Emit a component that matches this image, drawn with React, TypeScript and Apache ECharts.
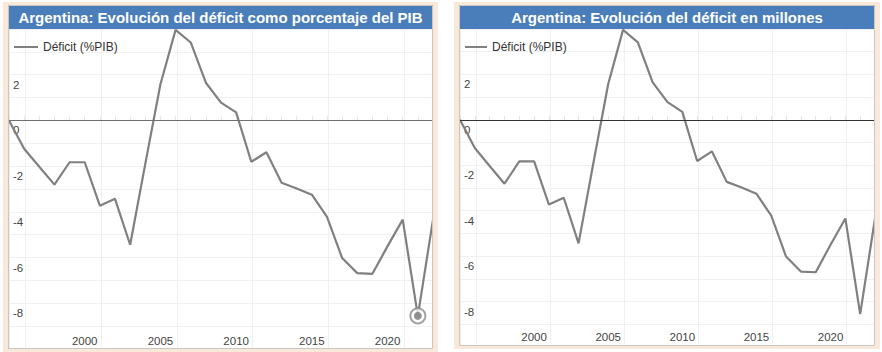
import React, { useEffect, useRef } from 'react';
import * as echarts from 'echarts';

const years = [
  '1995', '1996', '1997', '1998', '1999', '2000', '2001', '2002', '2003', '2004',
  '2005', '2006', '2007', '2008', '2009', '2010', '2011', '2012', '2013', '2014',
  '2015', '2016', '2017', '2018', '2019', '2020', '2021', '2022', '2023',
];
const deficitPct = [
  0, -1.24, -2.03, -2.81, -1.83, -1.83, -3.73, -3.43, -5.44, -1.9,
  1.58, 3.96, 3.41, 1.65, 0.78, 0.35, -1.81, -1.39, -2.73, -2.98,
  -3.25, -4.22, -6.02, -6.68, -6.71, -5.5, -4.34, -8.55, -4.34,
];
const xTickLabels = ['2000', '2005', '2010', '2015', '2020'];
const yTickLabels = [-8, -6, -4, -2, 0, 2];
const seriesName = 'Déficit (%PIB)';
const titles = [
  'Argentina: Evolución del déficit como porcentaje del PIB',
  'Argentina: Evolución del déficit en millones',
];
const highlightYear = '2022';

const FONT = '"Liberation Sans", Arial, sans-serif';
const BLUE = '#4a7ebb';
const BEIGE = '#f8e9da';
const LINE = '#808080';
const GRID_OFFSET = 1.08; // vertical grid lines sit ~1 year after the label

type Panel = {
  x0: number; x1: number; y0: number; y1: number; // panel border box
  gridLeft: number; gridWidth: number; gridHeight: number;
  legendLeft: number; legendItemWidth: number;
  zeroColor: string; labelMargin: number;
};

const panels: Panel[] = [
  { x0: 8, x1: 433, y0: 5, y1: 349, gridLeft: 9, gridWidth: 424, gridHeight: 320, legendLeft: 9, legendItemWidth: 24, zeroColor: '#707070', labelMargin: 2 },
  { x0: 459, x1: 875, y0: 5, y1: 346, gridLeft: 460, gridWidth: 415, gridHeight: 318, legendLeft: 460, legendItemWidth: 22, zeroColor: '#333333', labelMargin: 4 },
];

export default function App() {
  const ref = useRef<HTMLDivElement>(null);
  useEffect(() => {
    if (!ref.current) return;
    const chart = echarts.init(ref.current, undefined, { renderer: 'svg' });
    const first = Number(years[0]);
    const last = Number(years[years.length - 1]);
    const hiIdx = years.indexOf(highlightYear);

    const grid: any[] = [];
    const xAxis: any[] = [];
    const yAxis: any[] = [];
    const series: any[] = [];
    const legend: any[] = [];
    const graphic: any[] = [];

    panels.forEach((p, i) => {
      grid.push({ left: p.gridLeft, top: 29, width: p.gridWidth, height: p.gridHeight, containLabel: false });
      xAxis.push({
        type: 'category', gridIndex: i, data: years, boundaryGap: false,
        axisLine: { show: false },
        axisTick: { show: true, inside: true, length: 4, interval: 0, lineStyle: { color: '#e4e4e4' } },
        axisLabel: {
          inside: true, margin: p.labelMargin,
          interval: (_idx: number, v: string) => xTickLabels.includes(v),
          color: '#444444', fontSize: 11.5, fontFamily: FONT,
        },
        splitLine: { show: false },
      });
      xAxis.push({
        type: 'value', gridIndex: i,
        min: first - GRID_OFFSET, max: last - GRID_OFFSET,
        minInterval: 5, maxInterval: 5,
        axisLine: { show: false }, axisTick: { show: false }, axisLabel: { show: false },
        splitLine: { show: true, lineStyle: { color: '#f0f0f0', width: 1 } },
      });
      yAxis.push({
        type: 'value', gridIndex: i, min: -10, max: 4, interval: 1,
        axisLine: { show: false }, axisTick: { show: false },
        splitLine: { show: true, lineStyle: { color: '#f0f0f0', width: 1 } },
        axisLabel: {
          inside: true, margin: 4,
          formatter: (v: number) => (yTickLabels.includes(v) ? String(v) : ''),
          verticalAlign: 'top', padding: [4, 0, 0, 0],
          color: '#444444', fontSize: 11.5, fontFamily: FONT,
        },
      });
      series.push({
        type: 'line', name: seriesName, xAxisIndex: i * 2, yAxisIndex: i,
        data: deficitPct, symbol: 'none',
        lineStyle: { color: LINE, width: 2.2 }, itemStyle: { color: LINE },
        z: 3,
        markLine: {
          silent: true, symbol: ['none', 'none'], label: { show: false },
          lineStyle: { color: p.zeroColor, width: 1.2, type: 'solid' },
          data: [{ yAxis: 0 }],
        },
      });
      legend.push({
        left: p.legendLeft, top: 36, itemWidth: p.legendItemWidth, itemHeight: 2,
        icon: 'rect',
        data: [seriesName], selectedMode: false,
        textStyle: { fontSize: 12, color: '#333', fontFamily: FONT },
      });
      // beige frame bands
      const bands = [
        { x: p.x0 - 5, y: p.y0 - 3, width: p.x1 - p.x0 + 10, height: 3 },
        { x: p.x0 - 5, y: p.y1, width: p.x1 - p.x0 + 10, height: 3 },
        { x: p.x0 - 5, y: p.y0 - 3, width: 5, height: p.y1 - p.y0 + 6 },
        { x: p.x1, y: p.y0 - 3, width: 5, height: p.y1 - p.y0 + 6 },
      ];
      bands.forEach((b) => graphic.push({ type: 'rect', shape: b, style: { fill: BEIGE }, z: 50 }));
      graphic.push({
        type: 'rect', shape: { x: p.x0, y: p.y0, width: p.x1 - p.x0, height: 24 },
        style: { fill: BLUE }, z: 60,
      });
      graphic.push({
        type: 'rect', shape: { x: p.x0 + 0.5, y: p.y0 + 0.5, width: p.x1 - p.x0 - 1, height: p.y1 - p.y0 - 1 },
        style: { fill: 'none', stroke: '#cbc6c0', lineWidth: 1 }, z: 61,
      });
      graphic.push({
        type: 'text', x: (p.x0 + p.x1) / 2, y: p.y0 + 12, z: 62,
        style: {
          text: titles[i], fill: '#ffffff', font: `bold 15px ${FONT}`,
          textAlign: 'center', textVerticalAlign: 'middle',
        },
      });
    });

    // hover marker on the left chart
    series.push({
      type: 'scatter', xAxisIndex: 0, yAxisIndex: 0, symbol: 'circle', symbolSize: 15,
      data: [[highlightYear, deficitPct[hiIdx]]],
      itemStyle: { color: '#ffffff', borderColor: '#8a8a8a', borderWidth: 2 }, z: 4, silent: true,
    });
    series.push({
      type: 'scatter', xAxisIndex: 0, yAxisIndex: 0, symbol: 'circle', symbolSize: 8,
      data: [[highlightYear, deficitPct[hiIdx]]],
      itemStyle: { color: '#777777' }, z: 5, silent: true,
    });

    chart.setOption({
      animation: false,
      backgroundColor: '#ffffff',
      textStyle: { fontFamily: FONT },
      grid, xAxis, yAxis, series, legend, graphic,
    });
    return () => chart.dispose();
  }, []);
  return <div ref={ref} style={{ position: 'absolute', left: 0, top: 0, width: 882, height: 352 }} />;
}
